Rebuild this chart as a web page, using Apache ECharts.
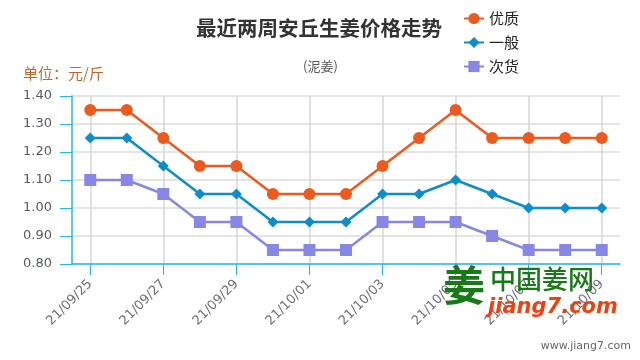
<!DOCTYPE html>
<html>
<head>
<meta charset="utf-8">
<script src="https://cdn.jsdelivr.net/npm/echarts@6/dist/echarts.min.js"></script>
<style>html,body{margin:0;padding:0;background:#fff}#c{width:640px;height:360px}</style>
</head>
<body>
<div id="c"></div>
<script>
const dates = ['21/09/25','21/09/26','21/09/27','21/09/28','21/09/29','21/09/30','21/10/01','21/10/02','21/10/03','21/10/04','21/10/05','21/10/06','21/10/07','21/10/08','21/10/09'];
const youzhi = [1.35,1.35,1.25,1.15,1.15,1.05,1.05,1.05,1.15,1.25,1.35,1.25,1.25,1.25,1.25];
const yiban  = [1.25,1.25,1.15,1.05,1.05,0.95,0.95,0.95,1.05,1.05,1.10,1.05,1.00,1.00,1.00];
const cihuo  = [1.10,1.10,1.05,0.95,0.95,0.85,0.85,0.85,0.95,0.95,0.95,0.90,0.85,0.85,0.85];
const seriesNames = ['优质','一般','次货'];

const FONT = '"Noto Sans CJK SC", "Open Sans", sans-serif';
const NUMFONT = '"DejaVu Sans", sans-serif';
const axisBlue = '#29b6e6';
const chart = echarts.init(document.getElementById('c'));
chart.setOption({
  animation: false,
  textStyle: {fontFamily: FONT},
  title: [
    {text: '最近两周安丘生姜价格走势', left: 191, top: 13,
     textStyle: {fontSize: 20.5, fontWeight: 'bold', color: '#333', fontFamily: FONT}},
    {text: '(泥姜)', left: 298, top: 55,
     textStyle: {fontSize: 13, fontWeight: 'normal', color: '#555', fontFamily: FONT}},
    {text: '单位：元/斤', left: 18, top: 61,
     textStyle: {fontSize: 15, fontWeight: 'normal', color: '#c4662a', fontFamily: FONT}}
  ],
  legend: {
    orient: 'vertical', left: 458, top: 6, itemGap: 9, itemWidth: 20, itemHeight: 14,
    textStyle: {fontSize: 15, color: '#222', fontFamily: FONT},
    data: seriesNames
  },
  grid: {left: 72, right: 20, top: 96, bottom: 96, containLabel: false},
  xAxis: {
    type: 'category', data: dates, boundaryGap: true,
    axisLine: {lineStyle: {color: axisBlue, width: 1.5}},
    axisTick: {show: true, alignWithLabel: true, interval: 1, length: 11, lineStyle: {color: axisBlue}},
    axisLabel: {interval: 1, rotate: 45, margin: 18, fontSize: 13, color: '#6a6e7c', fontFamily: NUMFONT},
    splitLine: {show: true, alignWithLabel: true, interval: 1, lineStyle: {color: '#d6d6d6', width: 1.5}}
  },
  yAxis: {
    type: 'value', min: 0.8, max: 1.4, interval: 0.1,
    axisLine: {show: true, lineStyle: {color: axisBlue, width: 1.5}},
    axisTick: {show: true, length: 12, inside: false, lineStyle: {color: axisBlue}},
    axisLabel: {margin: 20, fontSize: 13, color: '#555a66', fontFamily: NUMFONT, formatter: v => v.toFixed(2)},
    splitLine: {show: true, lineStyle: {color: '#dcdcdc', width: 1.5}}
  },
  series: [
    {name: '优质', type: 'line', data: youzhi, symbol: 'circle', symbolSize: 12,
     itemStyle: {color: '#ec5a1d'}, lineStyle: {width: 2.5, color: '#ec5a1d'}},
    {name: '一般', type: 'line', data: yiban, symbol: 'diamond', symbolSize: 11,
     itemStyle: {color: '#0b8ec9'}, lineStyle: {width: 2.5, color: '#0b8ec9'}},
    {name: '次货', type: 'line', data: cihuo, symbol: 'rect', symbolSize: 12,
     itemStyle: {color: '#8787e6'}, lineStyle: {width: 2.5, color: '#8787e6'}}
  ],
  graphic: [
    {type: 'text', left: 443, top: 264, z: 100,
     style: {text: '姜', font: 'bold 42px "Noto Sans CJK SC"', fill: '#177a17'}},
    {type: 'text', left: 490, top: 266, z: 100,
     style: {text: '中国姜网', font: '500 26px "Noto Sans CJK SC"', fill: '#177a17'}},
    {type: 'text', left: 488, top: 297, z: 100,
     style: {text: 'jiang7.com', font: 'italic bold 21px "DejaVu Sans"', fill: '#f0400e'}},
    {type: 'text', right: 9, top: 341, z: 100,
     style: {text: 'www.jiang7.com', font: '11px "DejaVu Sans"', fill: '#666'}}
  ]
});
</script>
</body>
</html>
